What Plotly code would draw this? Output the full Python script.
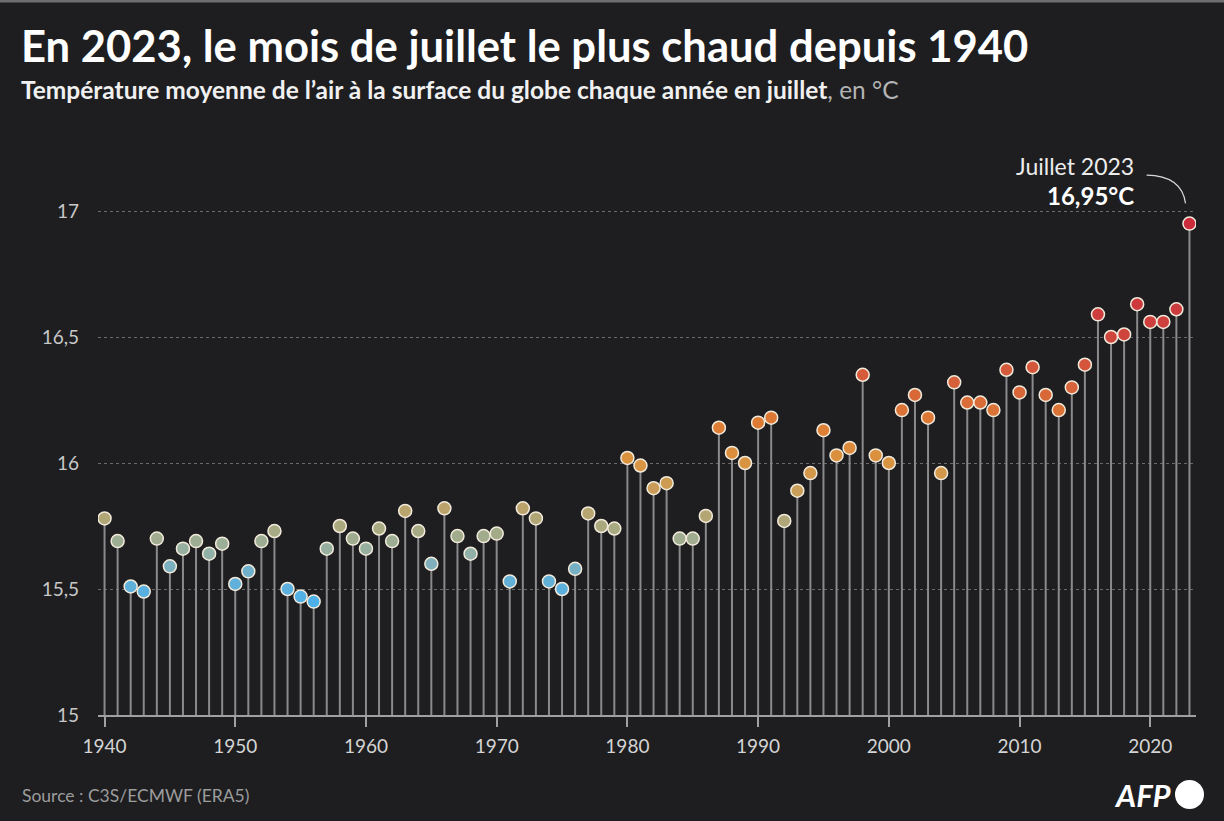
import plotly.graph_objects as go

# ---- data ----
years = list(range(1940, 2024))
temps = [
    15.78, 15.69, 15.51, 15.49, 15.70, 15.59, 15.66, 15.69, 15.64, 15.68,  # 1940s
    15.52, 15.57, 15.69, 15.73, 15.50, 15.47, 15.45, 15.66, 15.75, 15.70,  # 1950s
    15.66, 15.74, 15.69, 15.81, 15.73, 15.60, 15.82, 15.71, 15.64, 15.71,  # 1960s
    15.72, 15.53, 15.82, 15.78, 15.53, 15.50, 15.58, 15.80, 15.75, 15.74,  # 1970s
    16.02, 15.99, 15.90, 15.92, 15.70, 15.70, 15.79, 16.14, 16.04, 16.00,  # 1980s
    16.16, 16.18, 15.77, 15.89, 15.96, 16.13, 16.03, 16.06, 16.35, 16.03,  # 1990s
    16.00, 16.21, 16.27, 16.18, 15.96, 16.32, 16.24, 16.24, 16.21, 16.37,  # 2000s
    16.28, 16.38, 16.27, 16.21, 16.30, 16.39, 16.59, 16.50, 16.51, 16.63,  # 2010s
    16.56, 16.56, 16.61, 16.95,                                            # 2020s
]
ytick_vals = [15, 15.5, 16, 16.5, 17]
ytick_text = ["15", "15,5", "16", "16,5", "17"]
xtick_vals = [1940, 1950, 1960, 1970, 1980, 1990, 2000, 2010, 2020]
title_text = "En 2023, le mois de juillet le plus chaud depuis 1940"
subtitle_bold = "Température moyenne de l’air à la surface du globe chaque année en juillet"
subtitle_unit = ", en °C"
source_text = "Source : C3S/ECMWF (ERA5)"
base_value = 15

# ---- layout constants ----
W, H = 1224, 821
L, R, T, B = 98, 28, 85, 106
PW, PH = W - L - R, H - T - B
BG = "#1e1e20"
FONT = "Lato"


def px_x(p):
    return (p - L) / PW


def px_y(p):
    return (H - B - p) / PH


colorscale = [
    [0.00, "#4db0e8"],
    [0.07, "#6ab0d2"],
    [0.13, "#93b0a4"],
    [0.20, "#aaa97e"],
    [0.27, "#c4a062"],
    [0.37, "#da9440"],
    [0.47, "#dd7c33"],
    [0.57, "#d7623a"],
    [0.67, "#d14b3b"],
    [0.77, "#cc3b3e"],
    [1.00, "#cc2b3b"],
]

# stems built from the data arrays
stem_x, stem_y = [], []
for yr, v in zip(years, temps):
    stem_x += [yr, yr, None]
    stem_y += [base_value, v, None]

fig = go.Figure()
fig.add_trace(go.Scatter(
    x=stem_x, y=stem_y, mode="lines",
    line=dict(color="#8a8a8c", width=2),
    hoverinfo="skip", showlegend=False,
))
fig.add_trace(go.Scatter(
    x=years, y=temps, mode="markers",
    marker=dict(
        size=13, color=temps, colorscale=colorscale,
        cmin=min(temps), cmax=max(temps),
        line=dict(color="#f2eadb", width=1.5),
    ),
    showlegend=False,
))

last_year, last_val = years[-1], temps[-1]

annotations = [
    dict(xref="paper", yref="paper", x=px_x(19), y=px_y(45), xanchor="left", yanchor="middle",
         text=f"<b>{title_text}</b>", showarrow=False,
         font=dict(family=FONT, size=43.6, color="#ffffff")),
    dict(xref="paper", yref="paper", x=px_x(19), y=px_y(90), xanchor="left", yanchor="middle",
         text=f"<b>{subtitle_bold}</b><span style='color:#b4b4b4'>{subtitle_unit}</span>",
         showarrow=False, font=dict(family=FONT, size=24.5, color="#f0f0f0")),
    dict(xref="x", yref="y", x=last_year - 4.08, y=17.177, xanchor="right", yanchor="middle",
         text=f"Juillet {last_year}", showarrow=False,
         font=dict(family=FONT, size=23, color="#ececec")),
    dict(xref="x", yref="y", x=last_year - 4.08, y=17.062, xanchor="right", yanchor="middle",
         text="<b>" + f"{last_val:.2f}".replace(".", ",") + "°C</b>", showarrow=False,
         font=dict(family=FONT, size=24, color="#ffffff")),
    dict(xref="paper", yref="paper", x=px_x(20), y=px_y(795), xanchor="left", yanchor="middle",
         text=source_text, showarrow=False,
         font=dict(family=FONT, size=17.5, color="#9c9c9c")),
    dict(xref="paper", yref="paper", x=px_x(1174), y=px_y(795), xanchor="right", yanchor="middle",
         text="<b><i>AFP</i></b>", showarrow=False,
         font=dict(family=FONT, size=31, color="#ffffff")),
]

shapes = [
    # curved leader line to the 2023 point
    dict(type="path", xref="x", yref="y",
         path=f"M {last_year - 3.28},17.142 Q {last_year - 0.6},17.14 {last_year - 0.3},17.03",
         line=dict(color="#d8d8d8", width=1.2)),
    # AFP circle
    dict(type="circle", xref="paper", yref="paper",
         x0=px_x(1175), x1=px_x(1204), y0=px_y(780), y1=px_y(809),
         fillcolor="#ffffff", line=dict(width=0)),
    # thin grey top border
    dict(type="rect", xref="paper", yref="paper",
         x0=px_x(0), x1=px_x(W), y0=px_y(2.5), y1=px_y(0),
         fillcolor="#6e6e6e", line=dict(width=0), layer="below"),
]

fig.update_layout(
    width=W, height=H,
    margin=dict(l=L, r=R, t=T, b=B),
    paper_bgcolor=BG, plot_bgcolor=BG,
    font=dict(family=FONT, color="#d0d0d0"),
    annotations=annotations, shapes=shapes,
    xaxis=dict(
        range=[1939.5, 2023.5], tickvals=xtick_vals,
        showgrid=False, zeroline=False,
        showline=True, linecolor="#a0a0a0", linewidth=1.5,
        ticks="outside", ticklen=10, tickcolor="#a0a0a0", tickwidth=1.5,
        tickfont=dict(family=FONT, size=19, color="#d4d4d4"),
        ticklabelstandoff=3,
    ),
    yaxis=dict(
        range=[15, 17.5], tickvals=ytick_vals, ticktext=ytick_text,
        showgrid=True, gridcolor="#6a6a6a", griddash="dot", gridwidth=1,
        zeroline=False, showline=False, ticks="",
        tickfont=dict(family=FONT, size=19, color="#c8c8c8"),
        ticklabelstandoff=18,
    ),
    hovermode=False,
)

fig.write_html("out.html", config={"displayModeBar": False},
               post_script="document.body.style.margin='0';")
